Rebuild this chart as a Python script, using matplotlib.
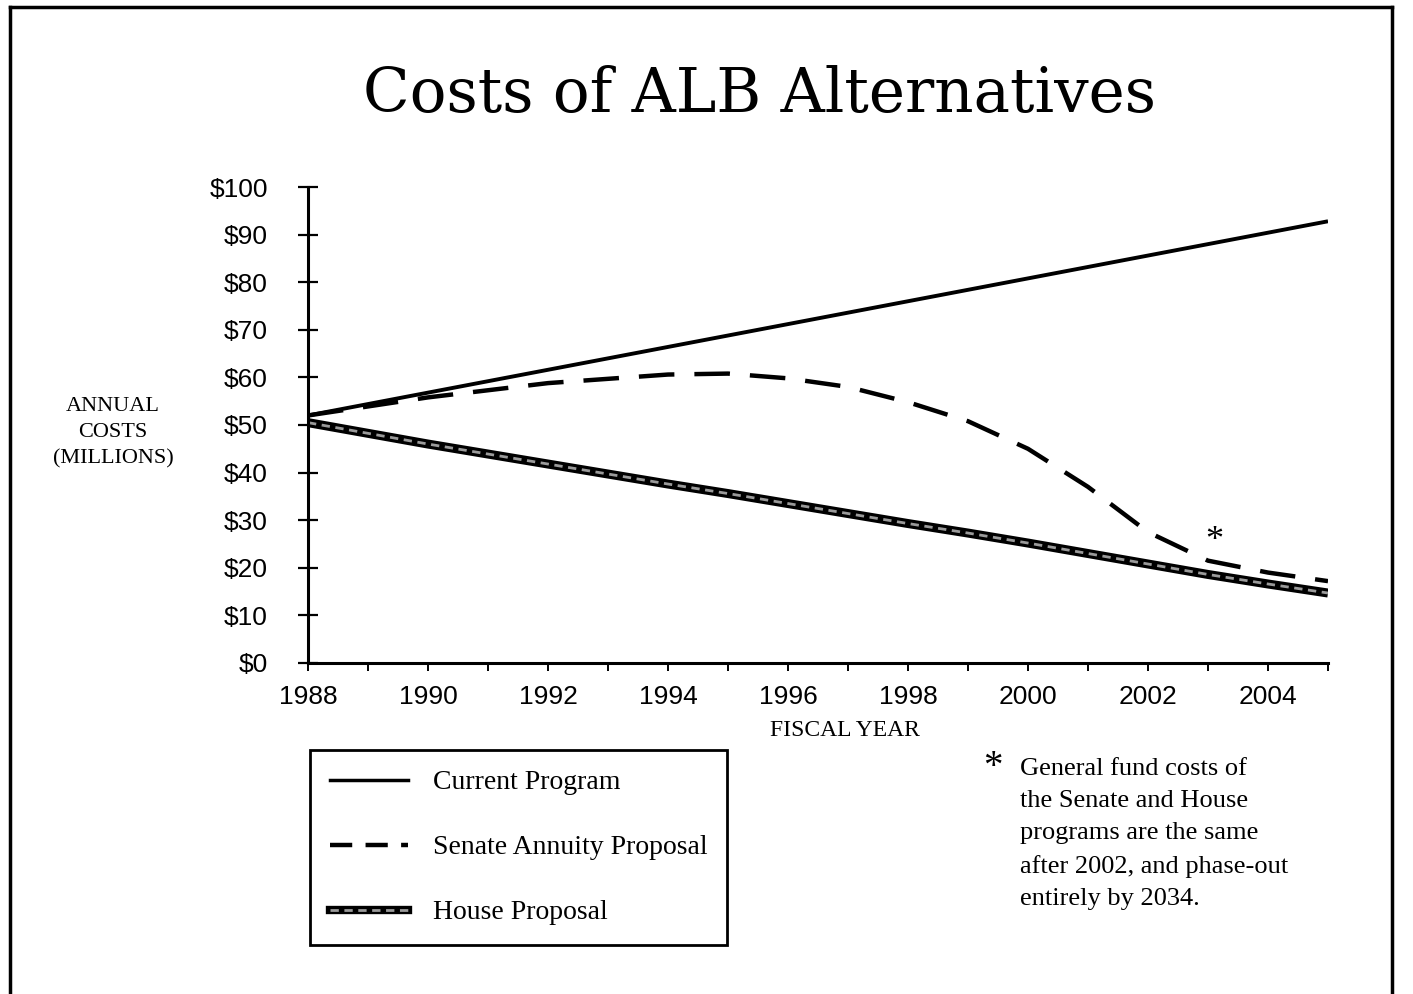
import numpy as np
import matplotlib.pyplot as plt
from matplotlib.lines import Line2D

years = [1988, 1990, 1992, 1994, 1995, 1996, 1997, 1998, 1999, 2000, 2001, 2002, 2003, 2004, 2005]
current = [52, 56.8, 61.6, 66.4, 68.8, 71.2, 73.6, 76.0, 78.4, 80.8, 83.2, 85.6, 88.0, 90.4, 92.8]
senate = [52, 55.8, 58.8, 60.6, 60.8, 59.8, 58.0, 54.8, 50.8, 45.0, 37.0, 27.5, 21.5, 19.0, 17.2]
house = [50.5, 46.0, 41.8, 37.6, 35.6, 33.5, 31.4, 29.3, 27.3, 25.2, 23.0, 20.8, 18.6, 16.6, 14.7]

ytick_vals = list(range(0, 101, 10))
ytick_labels = ['$' + str(v) for v in ytick_vals]
xtick_vals = list(range(1988, 2005, 2))

serif = 'Liberation Serif'
sans = 'Liberation Sans'

fig = plt.figure(figsize=(14.13, 9.94), dpi=100)
W, H = 1413, 994
ax = fig.add_axes([308 / W, 1 - 663 / H, (1328 - 308) / W, (663 - 187) / H])

ax.plot(years, current, color='black', lw=2.8, solid_capstyle='butt')
ax.plot(years, senate, color='black', lw=3.2, dashes=(8, 4.5))
ax.plot(years, house, color='black', lw=6.5, solid_capstyle='butt')
ax.plot(years, house, color='#9a9a9a', lw=2, dashes=(3, 2))

ax.text(2003.1, 25.5, '*', fontsize=26, ha='center', va='center', family=serif)

ax.set_xlim(1988, 2005)
ax.set_ylim(0, 100)
ax.spines['top'].set_visible(False)
ax.spines['right'].set_visible(False)
ax.spines['left'].set_linewidth(2.2)
ax.spines['bottom'].set_linewidth(2.2)

ax.set_yticks(ytick_vals)
ax.set_yticklabels(ytick_labels, family=sans, fontsize=19)
ax.set_xticks(xtick_vals)
ax.set_xticklabels([str(v) for v in xtick_vals], family=sans, fontsize=19)
ax.set_xticks(range(1988, 2006), minor=True)
ax.tick_params(axis='y', direction='inout', length=14, width=1.6, pad=22)
ax.tick_params(axis='x', which='both', direction='out', length=6, width=1.4, pad=10)

fig.text(760 / W, 1 - 95 / H, 'Costs of ALB Alternatives', ha='center', va='center',
         fontsize=44, family='DejaVu Serif')
fig.text(113 / W, 1 - 433 / H, 'ANNUAL\nCOSTS\n(MILLIONS)', ha='center', va='center',
         fontsize=16, family=serif, linespacing=1.5)
fig.text(845 / W, 1 - 731 / H, 'FISCAL YEAR', ha='center', va='center',
         fontsize=17, family=serif)

handles = [
    Line2D([], [], color='black', lw=2.5),
    Line2D([], [], color='black', lw=3.2, dashes=(5, 3)),
    (Line2D([], [], color='black', lw=6), Line2D([], [], color='#9a9a9a', lw=2, dashes=(3, 2))),
]
labels = ['Current Program', 'Senate Annuity Proposal', 'House Proposal']
leg = fig.legend(handles, labels, loc='upper left', bbox_to_anchor=(310 / W, 1 - 750 / H),
                 borderaxespad=0, frameon=True, fancybox=False, edgecolor='black',
                 framealpha=1, prop={'family': serif, 'size': 20}, handlelength=2.8,
                 handletextpad=0.9, labelspacing=1.42, borderpad=0.72)
leg.get_frame().set_linewidth(2)

fig.text(993 / W, 1 - 768 / H, '*', fontsize=28, family=serif, ha='center', va='center')
fig.text(1020 / W, 1 - 758 / H,
         'General fund costs of\nthe Senate and House\nprograms are the same\n'
         'after 2002, and phase-out\nentirely by 2034.',
         ha='left', va='top', fontsize=19, family=serif, linespacing=1.6)

# page border
fig.add_artist(Line2D([10 / W, 10 / W], [0, 1 - 7 / H], color='black', lw=2.5))
fig.add_artist(Line2D([10 / W, 1392 / W], [1 - 7 / H, 1 - 7 / H], color='black', lw=2.5))
fig.add_artist(Line2D([1392 / W, 1392 / W], [1 - 7 / H, 0], color='black', lw=2.5))

fig.savefig('out.png', dpi=100)
